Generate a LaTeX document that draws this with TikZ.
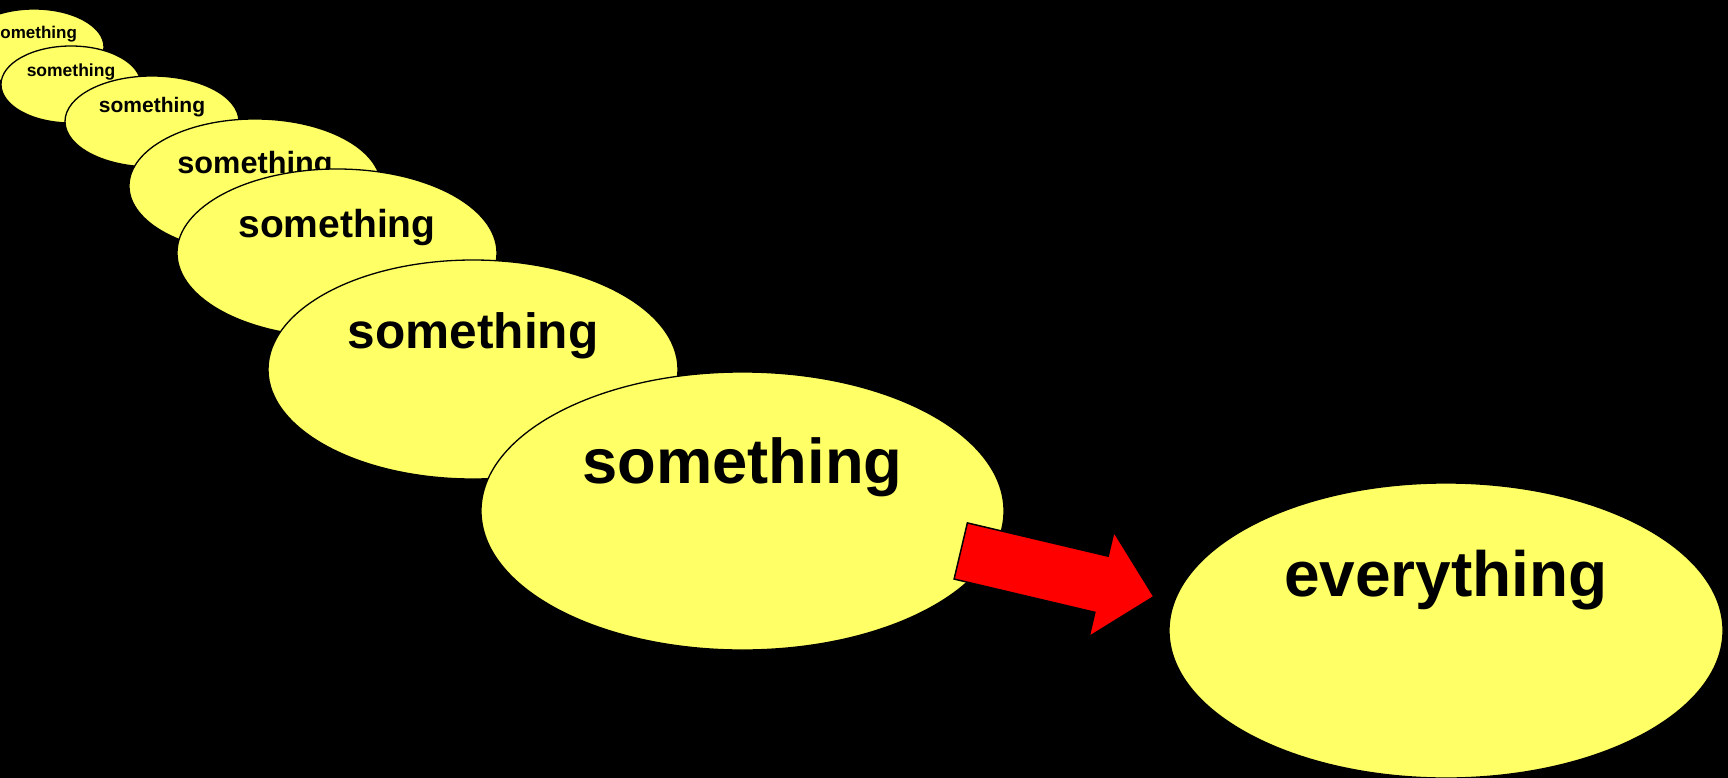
\documentclass[tikz,border=0pt]{standalone}
\usepackage{fontspec}
\setmainfont{Liberation Sans}
\usetikzlibrary{shapes.geometric,shapes.arrows}
\definecolor{ellyellow}{RGB}{255,255,102}
\definecolor{arrred}{RGB}{255,0,0}
\tikzset{
  blob/.style={ellipse, draw=black, line width=1.3pt, fill=ellyellow, inner sep=0pt},
  lbl/.style={anchor=base, inner sep=0pt, text=black, font=\bfseries\fontsize{#1}{#1}\selectfont},
  bigarrow/.style={single arrow, draw=black, line width=1.5pt, fill=arrred,
    inner xsep=0pt, inner ysep=28.1pt,
    minimum width=106pt, minimum height=198.5pt, single arrow head extend=25pt,
    single arrow tip angle=90, anchor=tail, rotate=-13.3}
}
\begin{document}
\begin{tikzpicture}[x=1pt,y=-1pt]
\useasboundingbox (0,0) rectangle (1728,778);
\fill[black] (0,0) rectangle (1728,778);
\clip (0,0) rectangle (1728,778);
% series of ellipses, each drawn over the previous one
\node[blob, minimum width=140pt, minimum height=76pt] (e1) at (34,47) {};
\node[lbl=17] (t1) at (34,39) {something};
\node[blob, minimum width=140pt, minimum height=77pt] (e2) at (71,84.5) {};
\node[lbl=17.5] (t2) at (71,77) {something};
\node[blob, minimum width=174pt, minimum height=91pt] (e3) at (152,121.5) {};
\node[lbl=21] (t3) at (152,113) {something};
\node[blob, minimum width=252pt, minimum height=134pt] (e4) at (255,186) {};
\node[lbl=30.7] (t4) at (255,174) {something};
\node[blob, minimum width=320pt, minimum height=168pt] (e5) at (337,253) {};
\node[lbl=39] (t5) at (337,237) {something};
\node[blob, minimum width=410pt, minimum height=219pt] (e6) at (473,369.5) {};
\node[lbl=49.6] (t6) at (473,348) {something};
\node[blob, minimum width=523pt, minimum height=278pt] (e7) at (742.5,511) {};
\node[lbl=63.3] (t7) at (742.5,483) {something};
\node[blob, minimum width=554pt, minimum height=295pt] (e8) at (1446,630.5) {};
\node[lbl=64] (t8) at (1446,596) {everything};
% block arrow from the last "something" towards "everything"
\coordinate (tailpt) at (960,550.8);
\node[bigarrow] (arr) at (tailpt) {};
\end{tikzpicture}
\end{document}
